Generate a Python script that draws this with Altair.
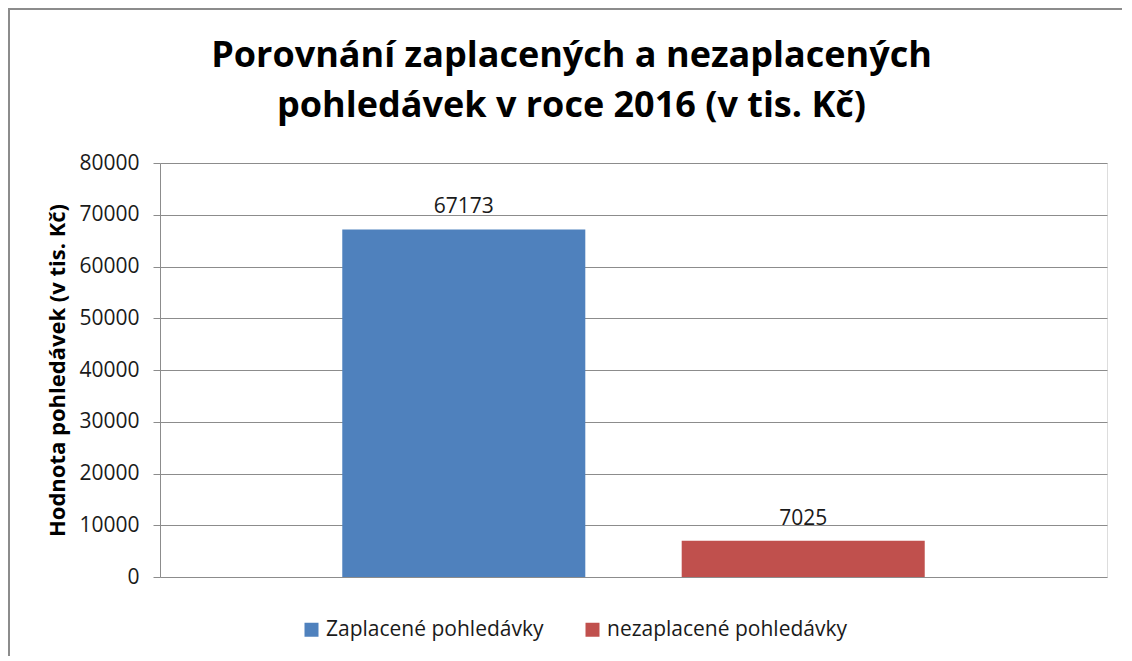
import altair as alt
import pandas as pd

categories = ["Zaplacené pohledávky", "nezaplacené pohledávky"]
values = [67173, 7025]
colors = ["#4F81BD", "#C0504D"]
y_ticks = [0, 10000, 20000, 30000, 40000, 50000, 60000, 70000, 80000]

df = pd.DataFrame({"kategorie": categories, "hodnota": values})

FONT = "Open Sans"

x_enc = alt.X("kategorie:N", sort=categories, axis=None,
              scale=alt.Scale(paddingInner=0.284, paddingOuter=0.537))
y_enc = alt.Y("hodnota:Q",
              scale=alt.Scale(domain=[0, 80000], nice=False),
              axis=alt.Axis(values=y_ticks, title="Hodnota pohledávek (v tis. Kč)",
                            format="d", labelFont=FONT, labelFontSize=21,
                            labelColor="#1a1a1a", labelPadding=14,
                            titleFont=FONT, titleFontSize=22, titleFontWeight="bold",
                            titleColor="#000000", titlePadding=9,
                            domainColor="#8c8c8c", tickColor="#8c8c8c", tickSize=7,
                            gridColor="#8c8c8c", gridWidth=1))

bars = alt.Chart(df).mark_bar().encode(
    x=x_enc,
    y=y_enc,
    color=alt.Color("kategorie:N", sort=categories,
                    scale=alt.Scale(domain=categories, range=colors),
                    legend=alt.Legend(title=None, orient="none", direction="horizontal",
                                      legendX=141, legendY=456,
                                      symbolType="square", symbolSize=196,
                                      symbolStrokeWidth=0, labelLimit=0,
                                      labelFont=FONT, labelFontSize=21,
                                      labelColor="#1a1a1a", columnPadding=38,
                                      labelOffset=4)),
)

labels = alt.Chart(df).mark_text(font=FONT, fontSize=21, color="#1a1a1a",
                                  baseline="alphabetic", dy=-16).encode(
    x=alt.X("kategorie:N", sort=categories),
    y="hodnota:Q",
    text=alt.Text("hodnota:Q", format="d"),
)

# outer chart frame (top and left edges, as in the reference crop)
frame_df = pd.DataFrame({"a": [0]})
top_border = alt.Chart(frame_df).mark_rule(color="#8c8c8c", strokeWidth=2).encode(
    x=alt.value(-152), x2=alt.value(962), y=alt.value(-154))
left_border = alt.Chart(frame_df).mark_rule(color="#8c8c8c", strokeWidth=2).encode(
    x=alt.value(-151), y=alt.value(-155), y2=alt.value(500))

chart = alt.layer(bars, labels, top_border, left_border).properties(
    width=947,
    height=414,
    title=alt.TitleParams(
        text=["Porovnání zaplacených a nezaplacených", "pohledávek v roce 2016 (v tis. Kč)"],
        font=FONT, fontSize=36, fontWeight="bold", color="#000000",
        anchor="middle", frame="group", dx=-62, lineHeight=50, offset=-118,
    ),
    padding={"left": 152, "top": 155, "right": 17, "bottom": 79},
    autosize=alt.AutoSizeParams(type="none"),
).configure_view(stroke=None).configure(background="white")

chart.save("out.html", embed_options={"renderer": "svg", "actions": False})
